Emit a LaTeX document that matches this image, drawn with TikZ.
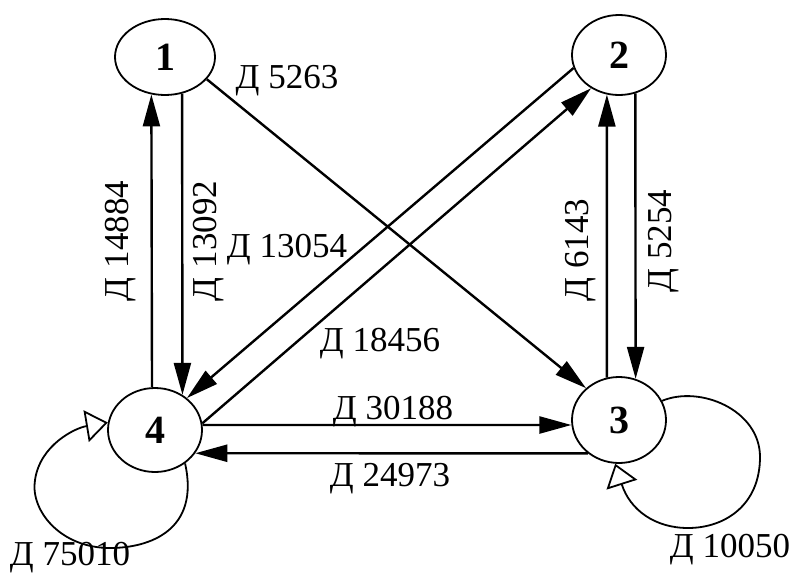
\documentclass[tikz,border=0pt]{standalone}
\usepackage{fontspec}
\setmainfont{Liberation Serif}
\usepackage{tikz}
\usetikzlibrary{arrows.meta, shapes.geometric}

\tikzset{
  state/.style={draw, ellipse, line width=1.8pt, inner sep=0pt,
    font=\fontsize{40}{46}\selectfont\bfseries},
  flow/.style={line width=2.4pt, -{Triangle[length=32pt, width=17pt]}},
  selfflow/.style={line width=1.8pt,
    -{Triangle[open, length=22pt, width=32pt, line width=1.8pt]}},
  lbl/.style={inner sep=0pt, font=\fontsize{35}{40}\selectfont},
}

\begin{document}
\begin{tikzpicture}[x=1pt, y=-1pt]
            \useasboundingbox (0, 0) rectangle (796, 576);

            \node[state, minimum width=100pt, minimum height=76pt] (n1) at (165, 57) {1};
            \node[state, minimum width=94pt, minimum height=80pt] (n2) at (619, 55) {2};
            \node[state, minimum width=94pt, minimum height=86pt] (n3) at (619, 420) {3};
            \node[state, minimum width=94pt, minimum height=84pt] (n4) at (155, 430) {4};

            % between 1 and 4
            \draw[flow] (n4.94) -- (n1.250);
            \draw[flow] (n1.295) -- (n4.52);
            \node[lbl, rotate=90] (d14884) at (121, 241) {Д 14884};
            \node[lbl, rotate=90] (d13092) at (209, 241) {Д 13092};

            % diagonals
            \draw[flow] (n1.332) -- (n3.136);
            \draw[flow] (n2.196) -- (n4.45);
            \draw[flow] (n4.8) -- (n2.230);
            \node[lbl] (d5263) at (287, 81) {Д 5263};
            \node[lbl] (d13054) at (287, 250) {Д 13054};
            \node[lbl] (d18456) at (380, 344) {Д 18456};

            % between 2 and 3
            \draw[flow] (n2.293) -- (n3.68);
            \draw[flow] (n3.106) -- (n2.253);
            \node[lbl, rotate=90] (d6143) at (581, 250) {Д 6143};
            \node[lbl, rotate=90] (d5254) at (664, 241) {Д 5254};

            % between 4 and 3
            \draw[flow] (n4.6) -- (n3.186);
            \draw[flow] (n3.227.6) -- (n4.-30.3);
            \node[lbl] (d30188) at (393, 412) {Д 30188};
            \node[lbl] (d24973) at (390, 479) {Д 24973};

            % loops
            \draw[selfflow] (n4.312) .. controls (200, 530) and (150, 548) .. (110, 548)
                .. controls (60, 548) and (30, 510) .. (35, 480)
                .. controls (40, 445) and (75, 428) .. (n4.171);
            \draw[selfflow] (n3.24) .. controls (700, 385) and (760, 410) .. (760, 457)
                .. controls (760, 505) and (725, 528) .. (688, 528)
                .. controls (655, 528) and (630, 510) .. (n3.265);
            \node[lbl] (d75010) at (70, 558) {Д 75010};
            \node[lbl] (d10050) at (730, 550) {Д 10050};
        \end{tikzpicture}
\end{document}
